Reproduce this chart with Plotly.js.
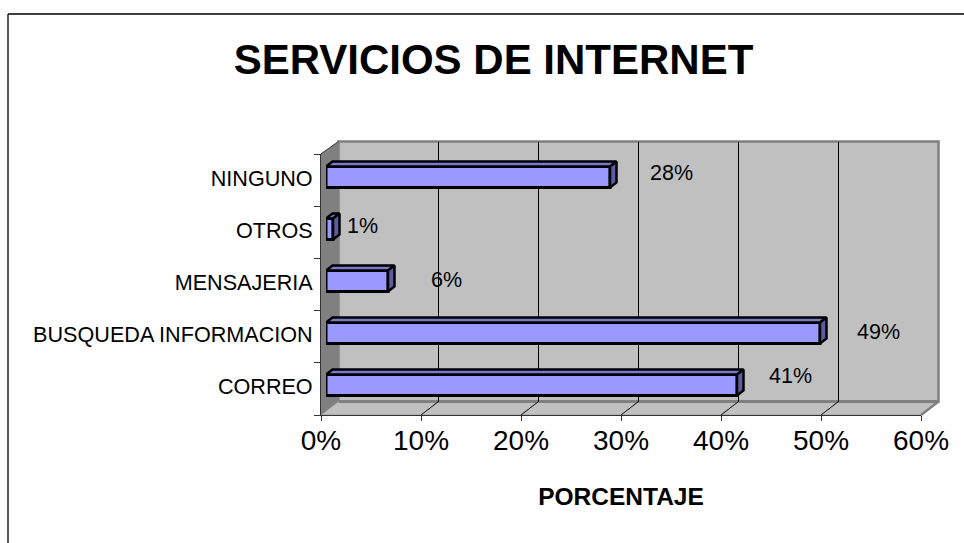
<!DOCTYPE html>
<html>
<head>
<meta charset="utf-8">
<script src="https://cdn.plot.ly/plotly-3.0.1.min.js"></script>
<style>
  html, body { margin: 0; padding: 0; background: #fff; }
</style>
</head>
<body>
<div id="plot" style="width:964px;height:543px;"></div>
<script>
// Data
const categories = ["CORREO", "BUSQUEDA INFORMACION", "MENSAJERIA", "OTROS", "NINGUNO"];
const percentages = [41.1, 49.4, 6.2, 0.7, 28.4];
const percentLabels = ["41%", "49%", "6%", "1%", "28%"];
const xTicks = [0, 10, 20, 30, 40, 50, 60];

// Hand placed label offsets, in pixels from the bar end
const labelShiftX = [53, 58, 58, 29, 61];
const labelShiftY = [9, 1, 1, 3, 4];

const W = 964, H = 543;
const fontName = '"Liberation Sans", Arial, sans-serif';

// Chart planes in pixels: back wall, front edge, plane the bars stand on
const back = { l: 338.5, r: 938.5, t: 141.5, b: 401.5 };
const front = { l: 321, r: 921, t: 154, b: 415 };
const barPlane = { l: 326, r: 926, t: 151, b: 411 };

const domX = (p) => [p.l / W, p.r / W];
const domY = (p) => [1 - p.b / H, 1 - p.t / H];
const px = (x) => x / W;
const py = (y) => 1 - y / H;

// Depth of a bar, in bar plane units (100px per 10%, 52px per category)
const depthX = 0.65;
const depthY = 5 / 52;
const halfBar = 10.5 / 52;

const topX = [], topY = [], sideX = [], sideY = [];
percentages.forEach((v, i) => {
  const low = i - halfBar, high = i + halfBar;
  topX.push(0, v, v + depthX, depthX, 0, null);
  topY.push(high, high, high + depthY, high + depthY, high, null);
  sideX.push(v, v + depthX, v + depthX, v, v, null);
  sideY.push(low, low + depthY, high + depthY, high, low, null);
});

const traces = [
  // empty, keeps the back wall subplot alive for its gridlines
  {
    type: "scatter", mode: "markers", x: [0], y: [0], xaxis: "x", yaxis: "y",
    marker: { opacity: 0 }, hoverinfo: "skip"
  },
  // invisible, only gives the front axis its categories
  {
    type: "bar", orientation: "h", x: percentages, y: categories,
    xaxis: "x2", yaxis: "y2", marker: { color: "rgba(0,0,0,0)" }, hoverinfo: "skip"
  },
  {
    type: "bar", orientation: "h", x: percentages, y: categories.map((c, i) => i),
    xaxis: "x3", yaxis: "y3", width: 2 * halfBar,
    marker: { color: "#9999FF", line: { color: "#000", width: 3 } }
  },
  {
    type: "scatter", mode: "lines", x: topX, y: topY, xaxis: "x3", yaxis: "y3",
    fill: "toself", fillcolor: "#7A7ACC", line: { color: "#000", width: 2.5 }, hoverinfo: "skip"
  },
  {
    type: "scatter", mode: "lines", x: sideX, y: sideY, xaxis: "x3", yaxis: "y3",
    fill: "toself", fillcolor: "#5C5CA3", line: { color: "#000", width: 2.5 }, hoverinfo: "skip"
  }
];

// Walls and floor
const poly = (pts, fill, lineColor, lineWidth) => ({
  type: "path", xref: "paper", yref: "paper", layer: "below",
  path: "M" + pts.map((p) => px(p[0]) + "," + py(p[1])).join("L") + "Z",
  fillcolor: fill, line: { color: lineColor, width: lineWidth }
});
const seg = (x0, y0, x1, y1, color, width) => ({
  type: "line", xref: "paper", yref: "paper", layer: "below",
  x0: px(x0), y0: py(y0), x1: px(x1), y1: py(y1), line: { color: color, width: width }
});

const shapes = [
  // outer frame, only top and left are visible
  seg(8, 14, W, 14, "#000", 1.5),
  seg(8, 14, 8, H, "#222", 1.5),
  poly([[back.l, back.t], [back.r, back.t], [back.r, back.b], [back.l, back.b]], "#C0C0C0", "#808080", 2.5),
  poly([[front.l, front.t], [back.l, back.t], [back.l, back.b], [front.l, front.b]], "#808080", "#808080", 1),
  poly([[front.l, front.b], [back.l, back.b], [back.r, back.b], [front.r, front.b]], "#C0C0C0", "#808080", 0.5),
  seg(back.l, back.b, back.r, back.b, "#808080", 3),
  seg(front.l, front.t, back.l, back.t, "#404040", 1),
  seg(front.r, front.b, back.r, back.b, "#808080", 2.5)
];
xTicks.slice(1, -1).forEach((t) => {
  const f = front.l + t * 10;
  shapes.push(seg(f, front.b, f + (back.l - front.l), back.b, "#000", 1));
});

const annotations = percentages.map((v, i) => ({
  x: v, y: i, xref: "x3", yref: "y3", text: percentLabels[i], showarrow: false,
  xshift: labelShiftX[i], yshift: labelShiftY[i],
  font: { family: fontName, size: 21.5, color: "#000" }
}));

const layout = {
  width: W, height: H,
  margin: { l: 0, r: 0, t: 0, b: 0, pad: 0 },
  paper_bgcolor: "#fff",
  plot_bgcolor: "rgba(0,0,0,0)",
  showlegend: false,
  barmode: "overlay",
  hovermode: false,
  title: {
    text: "SERVICIOS DE INTERNET",
    x: 493.5 / W, xanchor: "center", xref: "paper",
    y: py(59), yanchor: "middle", yref: "paper",
    font: { family: fontName, size: 42, color: "#000", weight: 700 }
  },
  // back wall, only the gridlines
  xaxis: {
    domain: domX(back), range: [0, 60], anchor: "y", dtick: 10, showgrid: true,
    gridcolor: "#000", gridwidth: 1, showticklabels: false, zeroline: false, showline: false, ticks: ""
  },
  yaxis: {
    domain: domY(back), range: [0, 1], anchor: "x",
    showgrid: false, showticklabels: false, zeroline: false, ticks: ""
  },
  // front edge with ticks and labels
  xaxis2: {
    domain: domX(front), range: [0, 60], anchor: "y2",
    tickmode: "array", tickvals: xTicks, ticktext: xTicks.map((t) => t + "%"),
    ticks: "outside", ticklen: 5, tickwidth: 1, tickcolor: "#333",
    showline: true, linecolor: "#333", linewidth: 1, showgrid: false, zeroline: false,
    tickfont: { family: fontName, size: 28, color: "#000" },
    ticklabelstandoff: -5,
    title: {
      text: "PORCENTAJE", standoff: 33,
      font: { family: fontName, size: 24.5, color: "#000", weight: 700 }
    },
    automargin: false
  },
  yaxis2: {
    domain: domY(front), anchor: "x2", type: "category",
    categoryorder: "array", categoryarray: categories, tickson: "boundaries",
    ticks: "outside", ticklen: 6, tickwidth: 1, tickcolor: "#333",
    showline: true, linecolor: "#333", linewidth: 1, showgrid: false, zeroline: false,
    tickfont: { family: fontName, size: 21.6, color: "#000" },
    ticklabelstandoff: 3,
    ticklabelshift: -2,
    automargin: false
  },
  // plane the bars stand on
  xaxis3: {
    domain: domX(barPlane), range: [0, 60], anchor: "y3", visible: false
  },
  yaxis3: {
    domain: domY(barPlane), range: [-0.5, 4.5], anchor: "x3", visible: false
  },
  shapes: shapes,
  annotations: annotations
};

Plotly.newPlot("plot", traces, layout, { displayModeBar: false, staticPlot: true });
</script>
</body>
</html>
